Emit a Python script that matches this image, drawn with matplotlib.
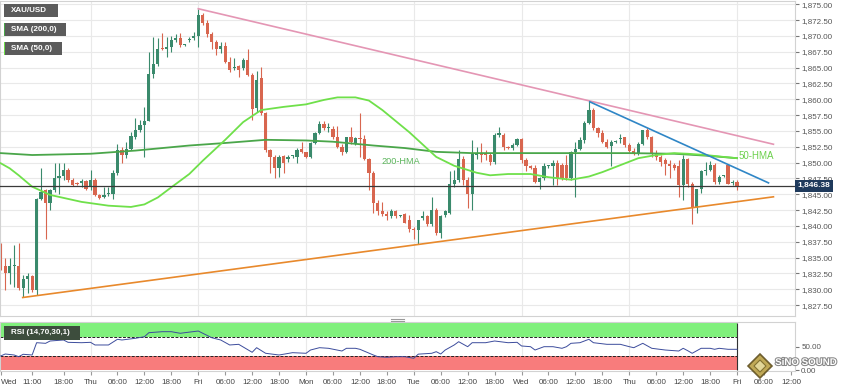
import numpy as np
import matplotlib.pyplot as plt
from matplotlib.patches import Rectangle, RegularPolygon
from matplotlib.transforms import blended_transform_factory, IdentityTransform
import matplotlib.patheffects as pe

plt.rcParams['font.family'] = ['Liberation Sans', 'DejaVu Sans']

W, H = 845, 389

#%% hourly candles, XAU/USD
opens = [1836.7, 1833.6, 1832.5, 1833.6, 1833.7, 1830.2, 1831.7, 1832.1, 1829.9, 1844.2,
         1845.6, 1843.6, 1845.7, 1847.6, 1847.9, 1848.8, 1847.2, 1846.7, 1846.8, 1847.1,
         1846.1, 1847.3, 1844.9, 1844.5, 1845.0, 1845.1, 1848.3, 1852.0, 1851.2, 1852.2,
         1854.1, 1855.2, 1855.9, 1856.6, 1864.0, 1865.5, 1868.0, 1867.9, 1868.2, 1869.4,
         1869.6, 1868.6, 1869.3, 1869.6, 1870.0, 1873.3, 1872.0, 1870.3, 1869.1, 1868.0,
         1868.4, 1865.9, 1864.9, 1865.2, 1864.9, 1866.2, 1863.8, 1858.6, 1863.3, 1857.8,
         1852.0, 1850.9, 1849.1, 1851.0, 1850.5, 1851.0, 1850.9, 1852.1, 1851.6, 1850.9,
         1853.1, 1854.6, 1856.1, 1855.4, 1855.3, 1854.1, 1852.5, 1851.7, 1854.0, 1853.0,
         1853.8, 1853.7, 1850.5, 1848.3, 1843.7, 1842.4, 1841.9, 1841.6, 1842.3, 1841.5,
         1841.9, 1840.9, 1839.5, 1839.3, 1841.2, 1841.5, 1840.3, 1842.5, 1838.9, 1841.7,
         1842.1, 1846.6, 1847.3, 1850.5, 1847.3, 1845.1, 1851.2, 1851.5, 1851.5, 1851.2,
         1850.1, 1854.4, 1854.4, 1852.4, 1852.3, 1852.8, 1853.7, 1850.4, 1849.5, 1849.1,
         1847.0, 1847.5, 1849.4, 1849.4, 1849.9, 1849.6, 1849.6, 1847.5, 1851.6, 1852.1,
         1853.6, 1856.2, 1858.3, 1855.4, 1854.7, 1853.3, 1852.6, 1853.3, 1853.7, 1854.0,
         1852.8, 1851.9, 1851.4, 1853.0, 1855.1, 1854.1, 1851.5, 1850.9, 1850.4, 1849.8,
         1849.6, 1849.4, 1846.5, 1850.5, 1846.7, 1842.8, 1845.8, 1848.6, 1848.8, 1849.6,
         1847.0, 1847.9, 1849.6, 1846.8, 1847.0]
highs = [1837.3, 1834.9, 1834.9, 1837.0, 1837.3, 1832.3, 1832.6, 1832.3, 1844.4, 1849.1,
         1845.8, 1845.9, 1849.9, 1849.9, 1849.9, 1849.1, 1847.5, 1847.0, 1847.4, 1847.2,
         1848.9, 1847.5, 1845.0, 1846.1, 1846.1, 1848.9, 1852.9, 1852.5, 1853.3, 1854.9,
         1857.0, 1856.7, 1858.8, 1867.5, 1869.9, 1869.6, 1870.5, 1869.8, 1870.0, 1870.3,
         1870.4, 1868.8, 1869.8, 1870.7, 1874.3, 1873.6, 1872.5, 1870.7, 1869.4, 1869.1,
         1869.1, 1866.7, 1866.5, 1865.4, 1866.5, 1867.9, 1864.1, 1864.5, 1865.1, 1858.0,
         1852.1, 1851.2, 1851.2, 1851.2, 1851.2, 1851.2, 1852.3, 1853.3, 1851.7, 1853.3,
         1854.8, 1856.5, 1856.5, 1856.2, 1855.8, 1855.8, 1853.0, 1854.1, 1855.7, 1854.1,
         1857.9, 1854.4, 1850.7, 1848.6, 1844.1, 1843.8, 1842.3, 1842.6, 1842.5, 1841.7,
         1842.1, 1841.7, 1839.8, 1841.0, 1842.3, 1841.8, 1844.6, 1842.8, 1841.8, 1842.5,
         1848.6, 1848.8, 1852.0, 1851.0, 1847.8, 1853.6, 1852.5, 1853.1, 1852.0, 1851.5,
         1854.6, 1855.6, 1854.6, 1852.6, 1853.1, 1853.9, 1853.9, 1850.7, 1849.7, 1849.7,
         1847.8, 1849.9, 1849.7, 1850.4, 1850.4, 1849.9, 1851.2, 1851.9, 1853.3, 1854.1,
         1856.5, 1859.8, 1858.6, 1855.7, 1855.1, 1853.8, 1853.5, 1853.6, 1854.5, 1854.1,
         1853.1, 1852.3, 1853.3, 1855.2, 1855.4, 1854.2, 1852.0, 1851.2, 1850.7, 1850.4,
         1849.9, 1850.4, 1851.2, 1850.7, 1847.0, 1845.9, 1848.8, 1850.1, 1850.3, 1849.9,
         1848.0, 1848.0, 1849.8, 1847.3, 1847.3]
lows = [1833.0, 1829.9, 1830.9, 1830.4, 1829.9, 1828.8, 1829.4, 1829.6, 1829.1, 1844.1,
        1838.0, 1842.5, 1845.4, 1845.1, 1847.2, 1847.0, 1846.3, 1846.4, 1846.2, 1845.7,
        1845.7, 1844.7, 1844.2, 1844.4, 1844.7, 1844.2, 1848.0, 1849.9, 1850.7, 1852.0,
        1853.8, 1854.9, 1850.9, 1856.5, 1863.3, 1865.2, 1867.8, 1866.7, 1867.5, 1869.1,
        1868.3, 1868.4, 1869.1, 1869.4, 1868.3, 1871.7, 1869.9, 1868.0, 1867.0, 1867.3,
        1865.7, 1864.3, 1864.6, 1863.5, 1864.6, 1863.6, 1856.8, 1858.0, 1857.5, 1851.7,
        1848.3, 1847.5, 1847.8, 1848.3, 1850.1, 1850.8, 1849.9, 1851.5, 1850.8, 1850.8,
        1853.0, 1854.5, 1855.1, 1854.9, 1853.8, 1852.3, 1851.2, 1851.5, 1853.0, 1852.8,
        1850.9, 1850.4, 1845.7, 1842.0, 1841.7, 1841.6, 1841.0, 1841.3, 1841.2, 1841.4,
        1840.4, 1839.1, 1838.0, 1837.1, 1840.9, 1840.0, 1840.0, 1838.6, 1838.1, 1841.4,
        1841.9, 1846.2, 1847.0, 1846.5, 1842.8, 1842.5, 1850.5, 1850.1, 1850.4, 1849.6,
        1849.8, 1854.1, 1852.0, 1852.2, 1852.0, 1852.7, 1849.9, 1848.6, 1849.0, 1846.8,
        1845.9, 1847.2, 1849.1, 1846.5, 1846.5, 1847.2, 1847.2, 1847.2, 1844.6, 1852.0,
        1853.1, 1856.1, 1855.1, 1854.1, 1853.1, 1852.3, 1849.4, 1853.1, 1853.1, 1852.5,
        1851.7, 1851.2, 1851.2, 1852.8, 1853.8, 1850.9, 1850.4, 1849.4, 1848.0, 1847.5,
        1848.8, 1844.6, 1844.1, 1846.2, 1840.3, 1842.1, 1845.2, 1848.0, 1848.6, 1846.7,
        1846.7, 1847.8, 1846.6, 1846.4, 1845.7]
closes = [1833.6, 1832.5, 1833.7, 1833.7, 1830.2, 1831.6, 1832.1, 1829.9, 1844.2, 1845.4,
          1843.6, 1845.7, 1847.5, 1847.9, 1848.9, 1847.2, 1846.5, 1846.6, 1847.1, 1845.9,
          1847.2, 1844.9, 1844.4, 1844.9, 1845.0, 1848.3, 1852.0, 1851.2, 1852.2, 1854.2,
          1855.2, 1855.9, 1856.6, 1864.0, 1865.5, 1867.9, 1867.9, 1868.2, 1869.4, 1869.6,
          1868.6, 1868.6, 1869.5, 1870.0, 1873.3, 1872.0, 1870.3, 1869.1, 1868.0, 1868.4,
          1865.9, 1864.7, 1864.9, 1864.6, 1866.2, 1863.8, 1858.5, 1863.0, 1857.8, 1852.0,
          1850.9, 1849.1, 1850.9, 1849.9, 1850.9, 1851.0, 1852.0, 1851.6, 1850.9, 1853.1,
          1854.6, 1856.1, 1855.4, 1855.4, 1854.1, 1852.5, 1851.7, 1854.0, 1853.3, 1853.9,
          1853.7, 1850.5, 1848.3, 1843.7, 1842.4, 1841.9, 1841.6, 1842.3, 1841.5, 1841.5,
          1840.5, 1839.5, 1839.3, 1840.9, 1841.5, 1840.3, 1842.5, 1838.9, 1841.6, 1842.3,
          1846.6, 1847.3, 1850.5, 1847.3, 1845.1, 1851.5, 1851.5, 1851.2, 1851.2, 1850.1,
          1854.4, 1854.6, 1852.4, 1852.3, 1852.8, 1853.7, 1850.4, 1849.5, 1849.1, 1847.0,
          1847.5, 1849.5, 1849.4, 1850.0, 1847.5, 1847.5, 1847.5, 1851.7, 1852.1, 1853.6,
          1856.2, 1858.3, 1855.4, 1854.7, 1853.3, 1852.5, 1853.3, 1853.3, 1853.8, 1852.8,
          1851.9, 1851.4, 1853.0, 1855.1, 1854.1, 1851.5, 1850.9, 1850.1, 1849.8, 1849.4,
          1849.1, 1846.5, 1850.5, 1846.7, 1842.8, 1845.8, 1848.6, 1848.8, 1849.6, 1847.0,
          1847.8, 1847.9, 1846.7, 1846.8, 1846.38]
last_price = 1846.38

# moving averages (candle index, value)
sma200_idx = [0, 7, 20, 30, 36, 42, 50, 59, 68, 74, 83, 90, 97, 105, 112, 124, 140, 150, 157, 164]
sma200_val = [1851.5, 1851.2, 1851.4, 1851.9, 1852.3, 1852.7, 1853.1, 1853.6, 1853.5, 1853.3,
              1852.7, 1852.3, 1851.7, 1851.5, 1851.5, 1851.5, 1851.5, 1851.4, 1851.1, 1850.7]
sma50_idx = [0, 2, 4, 7, 11, 18, 24, 29, 32, 35, 38, 42, 45, 50, 54, 58, 63, 68, 72, 75, 79,
             82, 85, 91, 97, 101, 106, 109, 113, 118, 122, 127, 131, 134, 138, 142, 146, 150,
             153, 157, 161, 164]
sma50_val = [1849.9, 1849.1, 1848.0, 1846.2, 1844.9, 1843.8, 1843.2, 1843.0, 1843.4, 1844.5,
             1846.1, 1848.2, 1850.3, 1853.6, 1856.4, 1858.3, 1858.8, 1859.2, 1859.9, 1860.3,
             1860.3, 1859.8, 1858.3, 1854.8, 1850.9, 1849.5, 1848.4, 1848.0, 1848.2, 1848.2,
             1847.7, 1847.3, 1847.8, 1848.5, 1849.6, 1850.7, 1851.2, 1851.5, 1851.4, 1851.2,
             1850.9, 1850.7]

# trend lines (start, end)
pink_idx, pink_val = [44, 172.1], [1874.3, 1852.9]
blue_idx, blue_val = [131.2, 171], [1859.6, 1846.8]
orange_idx, orange_val = [4.9, 172.1], [1828.7, 1844.6]

# RSI (14)
rsi_idx = [0, 1, 3, 4, 5, 7, 8, 10, 11, 14, 15, 18, 20, 21, 24, 26, 27, 30, 32, 33, 36, 38,
           40, 41, 44, 47, 49, 51, 53, 56, 57, 59, 62, 65, 68, 69, 71, 73, 76, 77, 79, 80,
           83, 84, 86, 88, 90, 92, 93, 96, 97, 98, 99, 101, 102, 104, 105, 108, 110, 113,
           115, 116, 118, 119, 121, 123, 125, 126, 127, 129, 131, 132, 135, 138, 140, 141,
           143, 145, 148, 151, 152, 153, 154, 156, 158, 159, 160, 162, 164]
rsi_val = [30.1, 34.3, 32.2, 28.6, 33.7, 32.2, 58.1, 56.8, 61.7, 63.8, 58.9, 58.1, 58.9, 53.3,
           53.3, 65.3, 63.8, 67.4, 70.7, 79.2, 81.3, 81.3, 77.9, 79.2, 82.7, 68.6, 63.8, 53.3,
           54.7, 37.9, 47.6, 35.8, 32.2, 37.1, 35.8, 42.7, 47.6, 46.3, 40.6, 46.3, 46.3, 44.2,
           32.2, 28.6, 27.4, 28.6, 28.6, 25.3, 34.0, 35.8, 39.2, 34.3, 42.7, 53.3, 60.2, 49.7,
           58.1, 58.1, 61.7, 58.1, 58.9, 51.2, 49.7, 42.7, 49.7, 49.7, 46.3, 49.7, 56.8, 58.1,
           65.3, 58.1, 54.7, 54.7, 49.7, 47.6, 56.8, 46.3, 42.7, 40.6, 46.3, 41.3, 35.8, 46.3,
           46.3, 44.2, 46.3, 44.2, 44.2]

# time axis
tick_pos = [0, 7, 14, 20, 26, 32, 38, 44, 50, 56, 62, 68, 74, 80, 86, 92, 98, 104, 110,
            116, 122, 128, 134, 140, 146, 152, 158, 164, 170, 176]
tick_lab = ['Wed', '11:00', '18:00', 'Thu', '06:00', '12:00', '18:00', 'Fri', '06:00',
            '12:00', '18:00', 'Mon', '06:00', '12:00', '18:00', 'Tue', '06:00', '12:00',
            '18:00', 'Wed', '06:00', '12:00', '18:00', 'Thu', '06:00', '12:00', '18:00',
            'Fri', '06:00', '12:00']
day_pos = [20, 44, 68, 92, 116, 140, 164]
price_ticks = np.arange(1827.5, 1875.1, 2.5)

#%% figure
fig = plt.figure(figsize=(W / 100, H / 100), dpi=100)
ax = fig.add_axes([0, 1 - 316 / H, 795 / W, 315 / H])
rs = fig.add_axes([0, 1 - 371 / H, 795 / W, 49 / H])

xmin, xmax = -0.156, 176.9
ax.set_xlim(xmin, xmax)
ax.set_ylim(1825.78, 1875.52)
rs.set_xlim(xmin, xmax)
rs.set_ylim(-1.5, 101.7)

grid_c = '#e9e9e9'
for a in (ax, rs):
    for s in a.spines.values():
        s.set_color('#d2d2d2')
        s.set_linewidth(0.8)

ax.set_yticks(price_ticks)
ax.set_yticklabels([f'{v:,.2f}' for v in price_ticks])
ax.yaxis.tick_right()
ax.tick_params(axis='y', length=3, pad=1.5, labelsize=5.8, color='#777', labelcolor='#555')
ax.set_xticks([])
ax.grid(axis='y', color=grid_c, lw=0.8, zorder=0)
for d in day_pos:
    ax.axvline(d, color=grid_c, lw=0.8, zorder=0)
    rs.axvline(d, color=grid_c, lw=0.8, zorder=0)

# candles
n = len(closes)
idx = np.arange(n)
up_c, dn_c = '#3a8a6c', '#d8664f'
cols = [up_c if c >= o else dn_c for o, c in zip(opens, closes)]
ax.vlines(idx, lows, highs, colors=cols, lw=0.8, zorder=2)
body_lo = np.minimum(opens, closes)
body_h = np.maximum(np.abs(np.subtract(closes, opens)), 0.18)
ax.bar(idx, body_h, 0.72, bottom=body_lo, color=cols, lw=0, zorder=2)

# averages and trend lines
ax.plot(sma200_idx, sma200_val, color='#4aa64a', lw=1.3, zorder=3)
ax.plot(sma50_idx, sma50_val, color='#6fe04a', lw=1.3, zorder=3)
ax.plot(pink_idx, pink_val, color='#e496b4', lw=1.2, zorder=3)
ax.plot(blue_idx, blue_val, color='#2f86c6', lw=1.2, zorder=3)
ax.plot(orange_idx, orange_val, color='#e8892c', lw=1.2, zorder=3)
ax.axhline(last_price, color='#3a3a3a', lw=0.9, zorder=3)

ax.text(89.2, 1850.2, '200-HMA', color='#5cb55c', fontsize=6.6, ha='center', va='center', zorder=4)
ax.text(164.3, 1851.0, '50-HMA', color='#6cd04c', fontsize=7, ha='left', va='center', zorder=4)

bt = blended_transform_factory(ax.transAxes, ax.transData)
ax.text(1.003, last_price, '1,846.38', transform=bt, fontsize=6, color='white',
        fontweight='bold', ha='left', va='center', clip_on=False, zorder=10,
        bbox=dict(boxstyle='square,pad=0.3', fc='#1f3a5c', ec='none'))

# RSI panel
rs.fill_between([xmin, 164], 70, 100, color='#80f07c', lw=0, zorder=1)
rs.fill_between([xmin, 164], 0, 30, color='#f87c7c', lw=0, zorder=1)
rs.hlines([70, 30], xmin, 164, colors='#222', linestyles=(0, (3, 1.5)), lw=0.7, zorder=2)
rs.vlines([164], 0, 100, colors='#333', lw=0.8, zorder=2)
rs.plot(rsi_idx, rsi_val, color='#3c4c9c', lw=0.7, zorder=3)
rs.yaxis.tick_right()
rs.set_yticks([0, 50])
rs.set_yticklabels(['0.00', '50.00'])
rs.tick_params(axis='y', length=3, pad=1.5, labelsize=5.8, color='#777', labelcolor='#555')
rs.set_xticks(tick_pos)
rs.set_xticklabels(tick_lab)
rs.tick_params(axis='x', length=3, pad=2.5, labelsize=5.8, color='#999', labelcolor='#444')
rs.get_xticklabels()[0].set_ha('left')

# legend tags
def tag(x0, y0, x1, y1, text, fc='#5b5b5b', stripe=None):
    fig.add_artist(Rectangle((x0 / W, 1 - y1 / H), (x1 - x0) / W, (y1 - y0) / H,
                             transform=fig.transFigure, fc=fc, ec='none', zorder=5))
    if stripe:
        fig.add_artist(Rectangle((x0 / W, 1 - y1 / H), 1.5 / W, (y1 - y0) / H,
                                 transform=fig.transFigure, fc=stripe, ec='none', zorder=6))
    fig.text((x0 + 7) / W, 1 - (y0 + y1) / 2 / H, text, color='white', fontsize=5.8,
             fontweight='bold', va='center', ha='left', zorder=7)

tag(4, 4, 58, 17, 'XAU/USD')
tag(4, 23, 66, 36, 'SMA (200,0)', stripe='#4aa64a')
tag(4, 42, 62, 55, 'SMA (50,0)', stripe='#6fe04a')
tag(4, 326, 80, 340, 'RSI (14,70,30,1)', fc='#3d4d3d')

# panel handle
for yy in (318.5, 320.5):
    fig.add_artist(plt.Line2D([391 / W, 404 / W], [1 - yy / H, 1 - yy / H],
                              transform=fig.transFigure, color='#9a9a9a', lw=0.8))

# watermark (pixel coordinates, origin bottom-left)
px = IdentityTransform()
fig.add_artist(RegularPolygon((760, H - 366), 4, radius=12, orientation=0, transform=px,
                              fc='#b59a3a', ec='#5a4a1a', lw=1.2, alpha=0.85, zorder=8))
fig.add_artist(RegularPolygon((760, H - 366), 4, radius=6, orientation=0, transform=px,
                              fc='#e6dca0', ec='#7a6a2a', lw=0.8, alpha=0.9, zorder=9))
fig.text(806 / W, 1 - 362 / H, 'SiNO SOUND', color='white', fontsize=7, fontweight='bold',
         ha='center', va='center', zorder=9,
         path_effects=[pe.withStroke(linewidth=1.5, foreground='#888')])

fig.savefig('out.png', dpi=100)
